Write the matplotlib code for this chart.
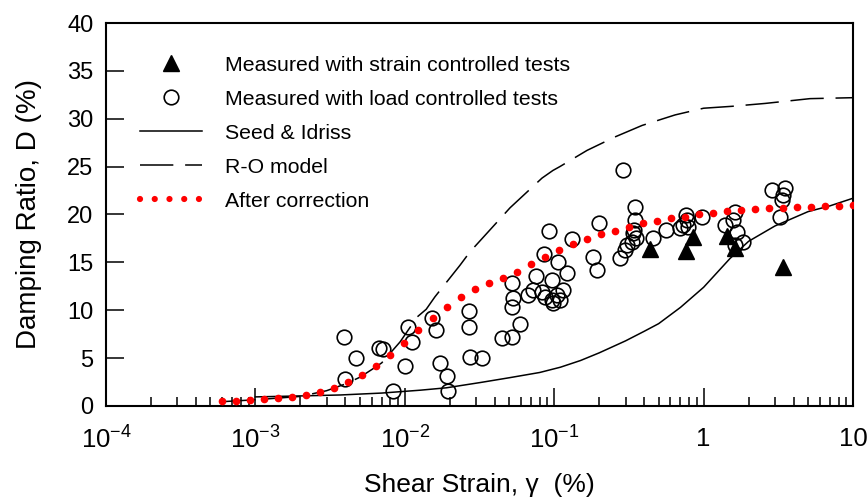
import numpy as np
import matplotlib.pyplot as plt
from matplotlib.lines import Line2D
from matplotlib.ticker import FixedLocator, FixedFormatter, LogLocator, NullFormatter

plt.rcParams['font.family'] = ['Liberation Sans', 'DejaVu Sans']
plt.rcParams['mathtext.fontset'] = 'custom'
plt.rcParams['mathtext.rm'] = 'Liberation Sans'
plt.rcParams['mathtext.it'] = 'Liberation Sans'
plt.rcParams['mathtext.sf'] = 'Liberation Sans'
plt.rcParams['lines.scale_dashes'] = False

# strain controlled tests (filled triangles)
strain_x = [0.438, 0.762, 0.849, 1.44, 1.62, 3.40]
strain_y = [16.4, 16.2, 17.6, 17.8, 16.5, 14.5]

# load controlled tests (open circles)
load_x = [0.00392, 0.00471, 0.00398, 0.00671, 0.00714, 0.00834, 0.0100, 0.0105,
          0.0112, 0.0152, 0.0162, 0.0172, 0.0191, 0.0195, 0.0269, 0.0269,
          0.0273, 0.0329, 0.0448, 0.0522, 0.0591, 0.0522, 0.0530, 0.0522,
          0.0669, 0.0722, 0.0756, 0.0828, 0.0867, 0.0855, 0.0923, 0.0967,
          0.0967, 0.098, 0.1044, 0.1094, 0.106, 0.1146, 0.122, 0.1316,
          0.182, 0.1935, 0.1995, 0.275, 0.288, 0.298, 0.307, 0.332,
          0.337, 0.347, 0.347, 0.340, 0.350, 0.458, 0.559, 0.695,
          0.728, 0.762, 0.775, 0.786, 0.975, 1.39, 1.57, 1.62,
          1.67, 1.84, 1.62, 2.87, 3.51, 3.40, 3.33, 3.24]
load_y = [7.2, 5.0, 2.8, 6.1, 6.0, 1.6, 4.2, 8.3,
          6.7, 9.2, 7.9, 4.5, 3.1, 1.6, 9.9, 8.3,
          5.1, 5.0, 7.1, 7.2, 8.6, 10.3, 11.3, 12.8,
          11.6, 12.1, 13.6, 11.9, 11.4, 15.9, 18.3, 13.2,
          11.1, 10.8, 11.6, 11.1, 15.0, 12.1, 13.9, 17.4,
          15.6, 14.2, 19.1, 15.5, 24.6, 16.3, 16.8, 17.1,
          18.1, 20.8, 19.4, 18.4, 17.5, 17.5, 18.4, 18.6,
          18.9, 19.9, 19.4, 18.7, 19.7, 18.9, 19.4, 20.3,
          18.2, 17.1, 16.8, 22.6, 22.8, 22.0, 21.5, 19.7]

# Seed & Idriss curve
seed_x = [0.001, 0.002, 0.0037, 0.007, 0.0127, 0.019, 0.032, 0.05, 0.08, 0.11,
          0.15, 0.2, 0.3, 0.4, 0.5, 0.7, 1.0, 1.5, 2.0, 3.0, 5.0, 7.0, 10.0]
seed_y = [0.95, 1.05, 1.15, 1.35, 1.65, 1.9, 2.45, 2.95, 3.5, 4.05,
          4.75, 5.55, 6.8, 7.8, 8.6, 10.3, 12.4, 15.4, 17.2, 18.8, 20.3, 20.9, 21.7]

# Ramberg-Osgood model
ro_x = [0.0006, 0.001, 0.002, 0.003, 0.004, 0.005, 0.006, 0.007, 0.0093, 0.0121,
        0.0139, 0.0159, 0.0234, 0.0273, 0.0414, 0.0506, 0.0828, 0.098, 0.109,
        0.166, 0.255, 0.387, 0.644, 1.0, 1.55, 2.58, 5.15, 10.0]
ro_y = [0.45, 0.65, 1.0, 1.6, 2.3, 3.0, 3.8, 4.5, 6.7, 9.3,
        10.1, 11.4, 14.7, 16.1, 19.2, 20.7, 23.8, 24.6, 25.0,
        26.7, 28.1, 29.3, 30.4, 31.1, 31.3, 31.6, 32.1, 32.2]

# corrected damping curve
corr_x = [0.000600, 0.000745, 0.000924, 0.001146, 0.001422, 0.001766, 0.002192,
          0.002720, 0.003376, 0.004189, 0.00520, 0.00645, 0.00801, 0.00994,
          0.01234, 0.01532, 0.01901, 0.02360, 0.02930, 0.03636, 0.04513,
          0.05601, 0.06952, 0.08630, 0.1071, 0.1329, 0.1649, 0.2047, 0.2541,
          0.3154, 0.3914, 0.4858, 0.6030, 0.7484, 0.9289, 1.153, 1.431, 1.776,
          2.204, 2.736, 3.396, 4.215, 5.231, 6.493, 8.059, 10.0]
corr_y = [0.52, 0.52, 0.63, 0.73, 0.84, 0.94, 1.15, 1.46, 1.88, 2.5,
          3.24, 4.18, 5.33, 6.58, 7.94, 9.19, 10.34, 11.38, 12.22, 12.85,
          13.37, 13.95, 14.83, 15.56, 16.29, 16.92, 17.44, 17.96, 18.28, 18.69,
          19.11, 19.32, 19.63, 19.74, 20.05, 20.16, 20.37, 20.47, 20.57, 20.68,
          20.7, 20.78, 20.8, 20.89, 20.9, 21.0]

xtick_vals = [1e-4, 1e-3, 1e-2, 1e-1, 1, 10]
xtick_text = [r'$10^{-4}$', r'$10^{-3}$', r'$10^{-2}$', r'$10^{-1}$', '1', '10']

fig = plt.figure(figsize=(8.67, 4.99), dpi=100)
ax = fig.add_axes([0.1223, 0.1864, 0.8616, 0.7675])

ax.plot(seed_x, seed_y, color='black', lw=1.1, zorder=2)
ax.plot(ro_x, ro_y, color='black', lw=1.1, dashes=(24, 8.5), zorder=2)
ax.plot(load_x, load_y, 'o', ls='none', mfc='none', mec='black', mew=1.2,
        ms=10.5, zorder=3)
ax.plot(strain_x, strain_y, '^', ls='none', color='black', ms=12, zorder=4)
ax.plot(corr_x, corr_y, 'o', ls='none', color='red', mec='red', ms=4.5, zorder=5)

ax.set_xscale('log')
ax.set_xlim(1e-4, 10)
ax.set_ylim(0, 40)
ax.xaxis.set_major_locator(FixedLocator(xtick_vals))
ax.xaxis.set_major_formatter(FixedFormatter(xtick_text))
ax.xaxis.set_minor_locator(LogLocator(base=10, subs=np.arange(2, 10)))
ax.xaxis.set_minor_formatter(NullFormatter())
ax.set_yticks(np.arange(0, 41, 5))

ax.tick_params(axis='both', which='both', direction='in', top=False, right=False,
               width=1.1, color='black')
ax.tick_params(axis='both', which='major', length=13)
ax.tick_params(axis='x', which='minor', length=6.5)
ax.tick_params(axis='y', labelsize=17, pad=9)
ax.tick_params(axis='x', labelsize=18.5, pad=15)
for sp in ax.spines.values():
    sp.set_linewidth(1.5)

ax.set_xlabel('Shear Strain, γ  (%)', fontsize=19, labelpad=14)
ax.set_ylabel('Damping Ratio, D (%)', fontsize=20, labelpad=18)

handles = [
    Line2D([], [], marker='^', ls='none', color='black', ms=12),
    Line2D([], [], marker='o', ls='none', mfc='none', mec='black', mew=1.2, ms=10.5),
    Line2D([], [], color='black', lw=1.1),
    Line2D([], [], color='black', lw=1.1, dashes=(24, 8.5)),
    Line2D([], [], color='red', lw=4.5, ls=(0, (0.01, 10.6)), dash_capstyle='round'),
]
labels = ['Measured with strain controlled tests',
          'Measured with load controlled tests',
          'Seed & Idriss', 'R-O model', 'After correction']
ax.legend(handles, labels, loc='upper left', bbox_to_anchor=(0.0455, 0.915),
          frameon=False, fontsize=15.3, handlelength=2.9, handletextpad=1.08,
          labelspacing=0.71, borderaxespad=0, borderpad=0)

fig.savefig('out.png', dpi=100)
